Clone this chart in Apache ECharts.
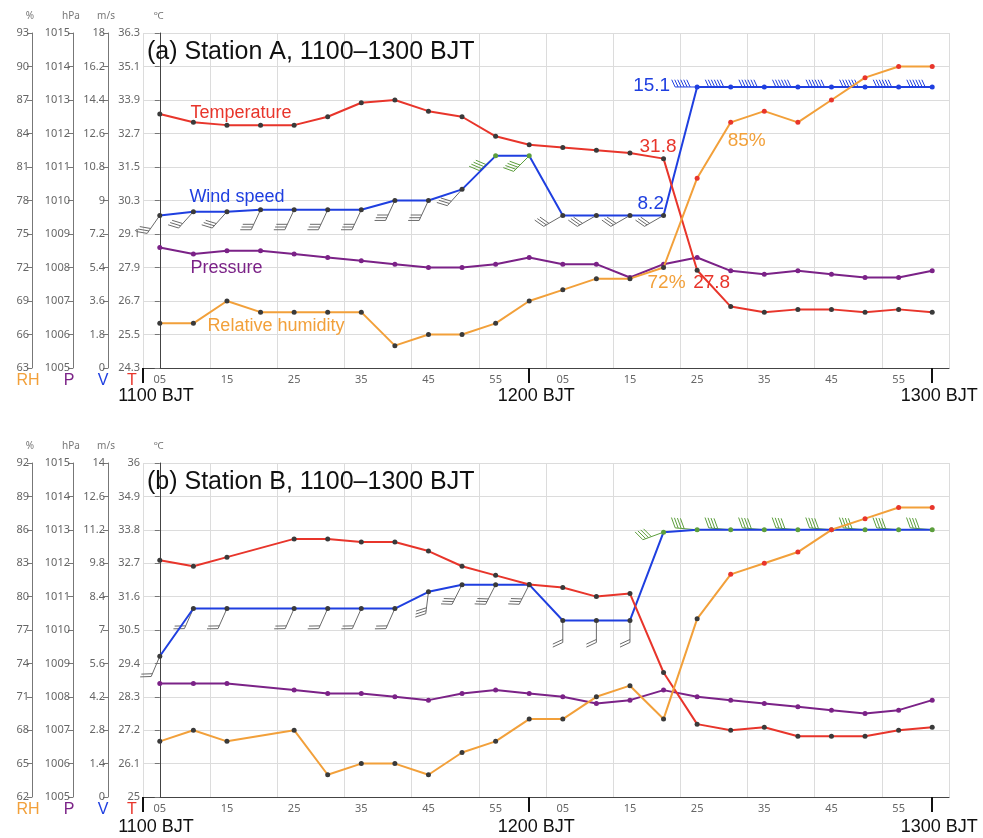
<!DOCTYPE html>
<html><head><meta charset="utf-8">
<script src="https://cdn.jsdelivr.net/npm/echarts@6/dist/echarts.min.js"></script>
<style>html,body{margin:0;padding:0;background:#fff}#c{width:983px;height:838px}</style>
</head><body><div id="c"></div>
<script>
// ---- data ----
const categories = ['05','10','15','20','25','30','35','40','45','50','55','00','05','10','15','20','25','30','35','40','45','50','55','00'];
const majorLabels = ['1100 BJT','1200 BJT','1300 BJT'];
const titleA = '(a) Station A, 1100\u20131300 BJT';
const titleB = '(b) Station B, 1100\u20131300 BJT';

const tempA = [33.4,33.1,33.0,33.0,33.0,33.3,33.8,33.9,33.5,33.3,32.6,32.3,32.2,32.1,32.0,31.8,27.8,26.5,26.3,26.4,26.4,26.3,26.4,26.3];
const windA = [8.2,8.4,8.4,8.5,8.5,8.5,8.5,9.0,9.0,9.6,11.4,11.4,8.2,8.2,8.2,8.2,15.1,15.1,15.1,15.1,15.1,15.1,15.1,15.1];
const presA = [1008.6,1008.4,1008.5,1008.5,1008.4,1008.3,1008.2,1008.1,1008.0,1008.0,1008.1,1008.3,1008.1,1008.1,1007.7,1008.1,1008.3,1007.9,1007.8,1007.9,1007.8,1007.7,1007.7,1007.9];
const rhA   = [67,67,69,68,68,68,68,65,66,66,67,69,70,71,71,72,80,85,86,85,87,89,90,90];
const windDirA = [215,222,222,205,205,205,205,205,205,222,228,225,240,240,240,240,270,270,270,270,270,270,270,270];
const barbsA   = [3,3,3,3,3,3,3,3,3,3,4,4,3,3,3,3,6,6,6,6,6,6,6,6];

const tempB = [32.8,32.6,32.9,null,33.5,33.5,33.4,33.4,33.1,32.6,32.3,32.0,31.9,31.6,31.7,29.1,27.4,27.2,27.3,27.0,27.0,27.0,27.2,27.3];
const windB = [5.9,7.9,7.9,null,7.9,7.9,7.9,7.9,8.6,8.9,8.9,8.9,7.4,7.4,7.4,11.1,11.2,11.2,11.2,11.2,11.2,11.2,11.2,11.2];
const presB = [1008.4,1008.4,1008.4,null,1008.2,1008.1,1008.1,1008.0,1007.9,1008.1,1008.2,1008.1,1008.0,1007.8,1007.9,1008.2,1008.0,1007.9,1007.8,1007.7,1007.6,1007.5,1007.6,1007.9];
const rhB   = [67,68,67,null,68,64,65,65,64,66,67,69,69,71,72,69,78,82,83,84,86,87,88,88];
const windDirB = [203,204,204,null,204,204,204,204,187,207,207,207,180,180,180,250,275,275,275,275,275,275,275,275];
const barbsB   = [2,2,2,null,2,2,2,2,3,3,3,3,2,2,2,4,4,4,4,4,4,4,4,4];

const axesA = {T:[24.3,36.3,1.2], V:[0,18,1.8], P:[1005,1015,1], RH:[63,93,3]};
const axesB = {T:[25,36,1.1], V:[0,14,1.4], P:[1005,1015,1], RH:[62,92,3]};

// ---- styles ----
const RED='#e8352b', BLUE='#1f3fe0', PURPLE='#7b2287', ORANGE='#f2a03a';
const GRAY_PT='#3a3a3a', GRAY_BARB='#6a6a6a', GREEN='#5c9e3c';
const TXT='"Liberation Sans", Arial, Helvetica, sans-serif';
const AXF='"Noto Sans", "Open Sans", sans-serif';

const xAxis=[], yAxis=[], series=[], grid=[];
const majorPos = [-0.5, categories.indexOf('00'), categories.lastIndexOf('00')];

function fmt1(v){ return String(Math.round(v*10)/10); }

function lab(text, color, size, dx, dy){
  return {show:true, formatter:String(text), position:'inside', align:'left', verticalAlign:'middle',
    offset:[dx,dy], color:color, fontSize:size, fontFamily:TXT};
}

function makeBarbRender(colorFn){
  return function(params, api){
    const i = api.value(0), v = api.value(1), dir = api.value(2), n = api.value(3);
    const p = api.coord([i, v]);
    const th = dir*Math.PI/180;
    const dx = Math.sin(th), dy = -Math.cos(th);
    const L=22, FL=(n>=5?8:11), gap=3, rot=65*Math.PI/180;
    const fx = dx*Math.cos(rot)-dy*Math.sin(rot), fy = dx*Math.sin(rot)+dy*Math.cos(rot);
    const col = colorFn(i);
    const st = {stroke:col, lineWidth:1};
    const ex = p[0]+dx*L, ey = p[1]+dy*L;
    const ch = [{type:'line', shape:{x1:p[0],y1:p[1],x2:ex,y2:ey}, style:st}];
    for(let k=0;k<n;k++){
      const bx = ex-dx*gap*k, by = ey-dy*gap*k;
      ch.push({type:'line', shape:{x1:bx,y1:by,x2:bx+fx*FL,y2:by+fy*FL}, style:st});
    }
    return {type:'group', children:ch};
  };
}

function panel(g, top, height, ax, d, majMargin){
  grid.push({left:143, right:34, top:top, height:height, containLabel:false});
  const xb = xAxis.length;
  xAxis.push({type:'category', gridIndex:g, data:categories, boundaryGap:true,
    axisLine:{lineStyle:{color:'#444', width:1.2}},
    axisTick:{interval:1, length:5, lineStyle:{color:'#555'}},
    axisLabel:{interval:1, color:'#666', fontSize:11, margin:6, fontFamily:AXF},
    splitLine:{show:true, interval:1, lineStyle:{color:'#dcdcdc'}}});
  xAxis.push({type:'value', gridIndex:g, min:-0.5, max:23.5, position:'bottom',
    axisLine:{show:false}, splitLine:{show:false},
    axisTick:{show:true, customValues:majorPos, length:15, lineStyle:{color:'#111', width:2}},
    axisLabel:{show:true, customValues:majorPos, margin:majMargin, fontSize:18, color:'#111', fontFamily:TXT,
      padding:[0,0,0,14],
      rich:{first:{fontSize:18, color:'#111', fontFamily:TXT, padding:[0,0,0,12]}},
      formatter:function(v){ return v<0 ? '{first|'+majorLabels[0]+'}' : (v<12 ? majorLabels[1] : majorLabels[2]); }}});
  const yb = yAxis.length;
  const defs = [
    {k:'T', off:0, unit:'\u2103', letter:'T', col:RED, f:fmt1, pad:[0,22,0,0], line:'#444'},
    {k:'V', off:35, unit:'m/s', letter:'V', col:BLUE, f:fmt1, pad:[0,10,0,0], line:'#777'},
    {k:'P', off:70, unit:'hPa', letter:'P', col:PURPLE, f:fmt1, pad:[0,8,0,0], line:'#777'},
    {k:'RH', off:111, unit:'%', letter:'RH', col:ORANGE, f:fmt1, pad:[0,8,0,0], line:'#777'}
  ];
  defs.forEach(function(df){
    const r = ax[df.k];
    yAxis.push({type:'value', gridIndex:g, position:'left', offset:df.off, min:r[0], max:r[1], interval:r[2],
      name:df.unit, nameLocation:'end', nameGap:12, nameMoveOverlap:false,
      nameTextStyle:{color:'#777', fontSize:10, fontFamily:AXF, align:'center', padding:[0,df.off===0?2:4,0,0]},
      axisLine:{show:true, lineStyle:{color:df.line, width:1}},
      axisTick:{show:true, length:5, lineStyle:{color:'#777'}},
      axisLabel:{color:'#666', fontSize:11, margin:3, fontFamily:AXF, formatter:df.f},
      splitLine:{show:df.k==='T', lineStyle:{color:'#dcdcdc'}}});
  });
  defs.forEach(function(df){
    const r = ax[df.k];
    yAxis.push({type:'value', gridIndex:g, position:'left', offset:df.off, min:r[0], max:r[1],
      name:df.letter, nameLocation:'start', nameGap:5, nameMoveOverlap:false,
      nameTextStyle:{color:df.col, fontSize:16, fontFamily:TXT, padding:df.pad, verticalAlign:'top'},
      axisLine:{show:false}, axisTick:{show:false}, axisLabel:{show:false}, splitLine:{show:false}});
  });
  const yT=yb, yV=yb+1, yP=yb+2, yR=yb+3;

  const barbData = [];
  d.wind.forEach(function(v,i){ if(v!=null) barbData.push([i, v, d.dir[i], d.barbs[i]]); });
  series.push({type:'custom', xAxisIndex:xb, yAxisIndex:yV, renderItem:makeBarbRender(d.barbColor),
    data:barbData, z:1, silent:true});

  function items(arr, ptColor, labels){
    return arr.map(function(v,i){
      if(v==null) return '-';
      const it = {value:v, itemStyle:{color:ptColor(i)}};
      if(labels && labels[i]) it.label = labels[i];
      return it;
    });
  }
  function line(name, arr, yi, col, ptColor, labels, z){
    series.push({type:'line', name:name, xAxisIndex:xb, yAxisIndex:yi, data:items(arr, ptColor, labels),
      symbol:'circle', symbolSize:5, showSymbol:true, connectNulls:true,
      lineStyle:{color:col, width:2}, itemStyle:{color:GRAY_PT}, label:{show:false}, z:z, silent:true});
  }
  line('Pressure', d.pres, yP, PURPLE, function(){return PURPLE;}, d.presLab, 2);
  line('Wind speed', d.wind, yV, BLUE, d.windPt, d.windLab, 3);
  line('Temperature', d.temp, yT, RED, function(){return GRAY_PT;}, d.tempLab, 4);
  line('Relative humidity', d.rh, yR, ORANGE, d.rhPt, d.rhLab, 5);
}

// Panel A
const tempLabA = {}; tempLabA[1]=lab('Temperature',RED,18,-3,-9); tempLabA[15]=lab(tempA[15].toFixed(1),RED,19,-24,-12); tempLabA[16]=lab(tempA[16].toFixed(1),RED,19,-4,12);
const windLabA = {}; windLabA[1]=lab('Wind speed',BLUE,18,-4,-15); windLabA[16]=lab(windA[16].toFixed(1),BLUE,19,-64,-1.5); windLabA[15]=lab(windA[15].toFixed(1),BLUE,19,-26,-12);
const presLabA = {}; presLabA[1]=lab('Pressure',PURPLE,18,-3,14);
const rhLabA = {}; rhLabA[1]=lab('Relative humidity',ORANGE,18,14,3); rhLabA[17]=lab(rhA[17]+'%',ORANGE,19,-3,18); rhLabA[15]=lab(rhA[15]+'%',ORANGE,19,-16,15);

panel(0, 33, 335, axesA, {temp:tempA, wind:windA, pres:presA, rh:rhA, dir:windDirA, barbs:barbsA,
  barbColor:function(i){ return i>=16?BLUE:((i===10||i===11)?GREEN:GRAY_BARB); },
  windPt:function(i){ return i>=16?BLUE:((i===10||i===11)?GREEN:GRAY_PT); },
  rhPt:function(i){ return i>=16?RED:GRAY_PT; },
  tempLab:tempLabA, windLab:windLabA, presLab:presLabA, rhLab:rhLabA}, 19);

panel(1, 463, 334, axesB, {temp:tempB, wind:windB, pres:presB, rh:rhB, dir:windDirB, barbs:barbsB,
  barbColor:function(i){ return i>=15?GREEN:GRAY_BARB; },
  windPt:function(i){ return i>=15?GREEN:GRAY_PT; },
  rhPt:function(i){ return i>=17?RED:GRAY_PT; }}, 21);

const chart = echarts.init(document.getElementById('c'));
chart.setOption({
  animation:false,
  backgroundColor:'#fff',
  title:[
    {text:titleA, left:147, top:40, padding:0, textStyle:{fontSize:25, fontWeight:'normal', color:'#111', fontFamily:TXT}},
    {text:titleB, left:147, top:470, padding:0, textStyle:{fontSize:25, fontWeight:'normal', color:'#111', fontFamily:TXT}}
  ],
  grid:grid, xAxis:xAxis, yAxis:yAxis, series:series
});
</script></body></html>
